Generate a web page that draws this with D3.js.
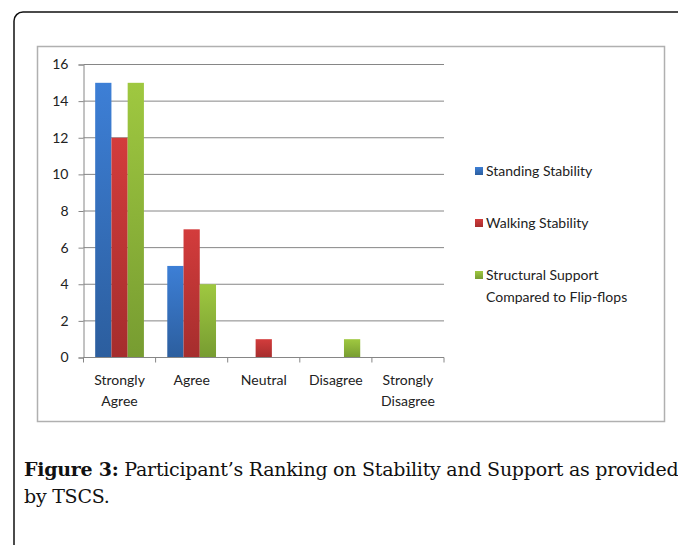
<!DOCTYPE html>
<html>
<head>
<meta charset="utf-8">
<script src="https://cdn.jsdelivr.net/npm/d3@7"></script>
<style>
  body { margin: 0; background: #fff; }
  svg { display: block; }
</style>
</head>
<body>
<div id="plot"></div>
<script>
var categories = [["Strongly", "Agree"], ["Agree"], ["Neutral"], ["Disagree"], ["Strongly", "Disagree"]];
var seriesNames = ["Standing Stability", "Walking Stability", "Structural Support Compared to Flip-flops"];
var legendLines = [["Standing Stability"], ["Walking Stability"], ["Structural Support", "Compared to Flip-flops"]];
var standing = [15, 5, 0, 0, 0];
var walking = [12, 7, 1, 0, 0];
var structural = [15, 4, 0, 1, 0];
var yTicks = [0, 2, 4, 6, 8, 10, 12, 14, 16];

var series = [standing, walking, structural];
var colorsTop = ["#3d7fd6", "#d33c3c", "#9fc840"];
var colorsBottom = ["#2c5e9e", "#a52d2d", "#779c31"];

var W = 678, H = 545;
var svg = d3.select("#plot").append("svg")
    .attr("width", W).attr("height", H);

var defs = svg.append("defs");
series.forEach(function (s, i) {
  var g = defs.append("linearGradient")
      .attr("id", "grad" + i)
      .attr("x1", 0).attr("y1", 0).attr("x2", 0).attr("y2", 1);
  g.append("stop").attr("offset", "0%").attr("stop-color", colorsTop[i]);
  g.append("stop").attr("offset", "100%").attr("stop-color", colorsBottom[i]);
});

// outer page frame
svg.append("rect")
  .attr("x", 14).attr("y", 12)
  .attr("width", 720).attr("height", 600)
  .attr("rx", 9)
  .attr("fill", "none")
  .attr("stroke", "#111")
  .attr("stroke-width", 1.5);

// chart box
svg.append("rect")
  .attr("x", 37.5).attr("y", 46.5)
  .attr("width", 627).attr("height", 375)
  .attr("fill", "#fff")
  .attr("stroke", "#b0b0b0")
  .attr("stroke-width", 1.5);

var plotLeft = 83.5, plotRight = 444, plotTop = 64.5, plotBottom = 357.5;

var x0 = d3.scaleBand()
  .domain(d3.range(categories.length))
  .range([plotLeft, plotRight])
  .padding(0);

var x1 = d3.scaleBand()
  .domain(d3.range(series.length))
  .range([x0.bandwidth() * 0.162, x0.bandwidth() * 0.838])
  .padding(0);

var y = d3.scaleLinear()
  .domain([0, 16])
  .range([plotBottom, plotTop]);

var font = "Lato, 'Open Sans', sans-serif";

// gridlines
svg.append("g").selectAll("line")
  .data(yTicks)
  .enter().append("line")
  .attr("x1", plotLeft).attr("x2", plotRight)
  .attr("y1", function (d) { return y(d); })
  .attr("y2", function (d) { return y(d); })
  .attr("stroke", "#868686")
  .attr("stroke-width", 1);

// y axis
var yAxis = d3.axisLeft(y)
  .tickValues(yTicks)
  .tickSize(5)
  .tickPadding(10);

var gy = svg.append("g")
  .attr("transform", "translate(" + plotLeft + ",0)")
  .call(yAxis);
gy.select(".domain").attr("stroke", "#868686");
gy.selectAll(".tick line").attr("stroke", "#868686");
gy.selectAll(".tick text")
  .attr("fill", "#222")
  .style("font-family", font)
  .style("font-size", "14px");

// bars
var groups = svg.append("g").selectAll("g")
  .data(categories)
  .enter().append("g")
  .attr("transform", function (d, i) { return "translate(" + x0(i) + ",0)"; });

groups.selectAll("rect")
  .data(function (d, i) { return series.map(function (s, j) { return {s: j, v: s[i]}; }); })
  .enter().append("rect")
  .filter(function (d) { return d.v > 0; })
  .attr("x", function (d) { return x1(d.s); })
  .attr("width", x1.bandwidth())
  .attr("y", function (d) { return y(d.v); })
  .attr("height", function (d) { return y(0) - y(d.v); })
  .attr("fill", function (d) { return "url(#grad" + d.s + ")"; });

// x axis line and ticks
svg.append("line")
  .attr("x1", plotLeft).attr("x2", plotRight)
  .attr("y1", plotBottom).attr("y2", plotBottom)
  .attr("stroke", "#868686");

var tickPos = d3.range(categories.length).map(function (i) { return x0(i); }).concat([plotRight]);
svg.append("g").selectAll("line")
  .data(tickPos)
  .enter().append("line")
  .attr("x1", function (d) { return d; }).attr("x2", function (d) { return d; })
  .attr("y1", plotBottom).attr("y2", plotBottom + 5)
  .attr("stroke", "#868686");

var xl = svg.append("g").selectAll("text")
  .data(categories)
  .enter().append("text")
  .attr("x", function (d, i) { return x0(i) + x0.bandwidth() / 2; })
  .attr("y", 385)
  .attr("text-anchor", "middle")
  .attr("fill", "#222")
  .style("font-family", font)
  .style("font-size", "14px");
xl.selectAll("tspan")
  .data(function (d) { return d; })
  .enter().append("tspan")
  .attr("x", function () { return this.parentNode.getAttribute("x"); })
  .attr("dy", function (d, i) { return i === 0 ? 0 : 21; })
  .text(function (d) { return d; });

// legend
var legendY = [171, 223, 275];
var lg = svg.append("g").selectAll("g")
  .data(seriesNames)
  .enter().append("g")
  .attr("transform", function (d, i) { return "translate(475," + legendY[i] + ")"; });

lg.append("rect")
  .attr("x", 0).attr("y", -4)
  .attr("width", 8).attr("height", 8)
  .attr("fill", function (d, i) { return "url(#grad" + i + ")"; });

var lt = lg.append("text")
  .attr("x", 11).attr("y", 5)
  .attr("fill", "#222")
  .style("font-family", font)
  .style("font-size", "14px");
lt.selectAll("tspan")
  .data(function (d, i) { return legendLines[i]; })
  .enter().append("tspan")
  .attr("x", 11)
  .attr("dy", function (d, i) { return i === 0 ? 0 : 22; })
  .text(function (d) { return d; });

// caption
var capFont = "'DejaVu Serif', 'Liberation Serif', serif";
var cap = svg.append("text")
  .attr("x", 24).attr("y", 476)
  .attr("fill", "#111")
  .style("font-family", capFont)
  .style("font-size", "19px")
  .style("letter-spacing", "-0.25px");
cap.append("tspan").attr("font-weight", "bold").text("Figure 3:");
cap.append("tspan").text(" Participant\u2019s Ranking on Stability and Support as provided");
svg.append("text")
  .attr("x", 24).attr("y", 503)
  .attr("fill", "#111")
  .style("font-family", capFont)
  .style("font-size", "19px")
  .style("letter-spacing", "-0.25px")
  .text("by TSCS.");
</script>
</body>
</html>
